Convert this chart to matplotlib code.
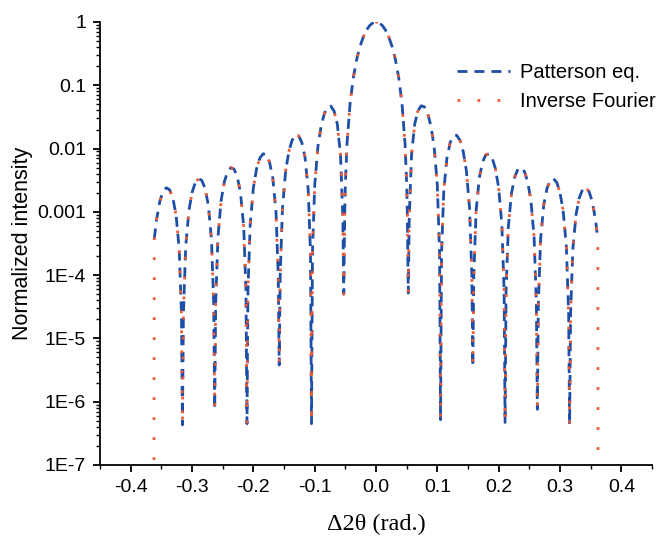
import numpy as np
import matplotlib
matplotlib.use('Agg')
import matplotlib.pyplot as plt
from matplotlib.ticker import MultipleLocator, LogLocator, FixedLocator, FixedFormatter, NullFormatter

plt.rcParams['font.family'] = ['Liberation Sans', 'DejaVu Sans']
plt.rcParams['axes.unicode_minus'] = False
plt.rcParams['lines.scale_dashes'] = False

# diffraction angle offset (rad.)
dtheta = [
    -0.3615, -0.3577, -0.3524, -0.3472, -0.3419, -0.3366, -0.3314, -0.3261, -0.3209, -0.3172, -0.3156,
    -0.3140, -0.3103, -0.3051, -0.2998, -0.2946, -0.2893, -0.2840, -0.2788, -0.2735, -0.2683, -0.2646, -0.2630,
    -0.2614, -0.2577, -0.2525, -0.2472, -0.2420, -0.2367, -0.2314, -0.2262, -0.2209, -0.2157, -0.2120, -0.2104,
    -0.2088, -0.2051, -0.1999, -0.1946, -0.1894, -0.1841, -0.1788, -0.1736, -0.1683, -0.1631, -0.1594, -0.1578,
    -0.1562, -0.1525, -0.1473, -0.1420, -0.1368, -0.1315, -0.1262, -0.1210, -0.1157, -0.1105, -0.1068, -0.1052,
    -0.1036, -0.0999, -0.0947, -0.0894, -0.0842, -0.0789, -0.0736, -0.0684, -0.0631, -0.0579, -0.0542, -0.0526,
    -0.0510, -0.0500, -0.0473, -0.0421, -0.0368, -0.0316, -0.0263, -0.0210, -0.0158, -0.0105, -0.0053,
    0.0,
    0.0053, 0.0105, 0.0158, 0.0210, 0.0263, 0.0316, 0.0368, 0.0421, 0.0473, 0.0500, 0.0510,
    0.0526, 0.0542, 0.0579, 0.0631, 0.0684, 0.0736, 0.0789, 0.0842, 0.0894, 0.0947, 0.0999, 0.1036,
    0.1052, 0.1068, 0.1105, 0.1157, 0.1210, 0.1262, 0.1315, 0.1368, 0.1420, 0.1473, 0.1525, 0.1562,
    0.1578, 0.1594, 0.1631, 0.1683, 0.1736, 0.1788, 0.1841, 0.1894, 0.1946, 0.1999, 0.2051, 0.2088,
    0.2104, 0.2120, 0.2157, 0.2209, 0.2262, 0.2314, 0.2367, 0.2420, 0.2472, 0.2525, 0.2577, 0.2614,
    0.2630, 0.2646, 0.2683, 0.2735, 0.2788, 0.2840, 0.2893, 0.2946, 0.2998, 0.3051, 0.3103, 0.3140,
    0.3156, 0.3172, 0.3209, 0.3261, 0.3314, 0.3366, 0.3419, 0.3472, 0.3524, 0.3577, 0.3615,
]

# normalized intensity at those angles
intensity = [
    3.8e-4, 7.6e-4, 1.48e-3, 2.10e-3, 2.40e-3, 2.24e-3, 1.67e-3, 9.1e-4, 2.6e-4, 2.5e-5, 4.3e-7,
    2.5e-5, 2.8e-4, 1.04e-3, 2.04e-3, 2.92e-3, 3.35e-3, 3.14e-3, 2.36e-3, 1.30e-3, 3.7e-4, 3.5e-5, 7.6e-7,
    3.6e-5, 4.0e-4, 1.52e-3, 3.00e-3, 4.33e-3, 5.00e-3, 4.73e-3, 3.59e-3, 1.98e-3, 5.8e-4, 5.5e-5, 4.5e-7,
    5.7e-5, 6.4e-4, 2.42e-3, 4.84e-3, 7.07e-3, 8.27e-3, 7.93e-3, 6.09e-3, 3.42e-3, 1.01e-3, 9.8e-5, 3.8e-6,
    1.02e-4, 1.15e-3, 4.47e-3, 9.10e-3, 1.356e-2, 1.621e-2, 1.591e-2, 1.254e-2, 7.23e-3, 2.19e-3, 2.2e-4, 4.5e-7,
    2.3e-4, 2.68e-3, 1.080e-2, 2.295e-2, 3.58e-2, 4.50e-2, 4.68e-2, 3.92e-2, 2.43e-2, 8.0e-3, 8.5e-4, 5.0e-5,
    9.5e-4, 2.75e-3, 1.194e-2, 5.47e-2, 0.1353, 0.2546, 0.4053, 0.5728, 0.7368, 0.8751, 0.9675,
    1.0,
    0.9675, 0.8751, 0.7368, 0.5728, 0.4053, 0.2546, 0.1353, 5.47e-2, 1.194e-2, 2.75e-3, 9.5e-4,
    5.2e-5, 8.5e-4, 8.0e-3, 2.45e-2, 3.95e-2, 4.75e-2, 4.55e-2, 3.60e-2, 2.30e-2, 1.080e-2, 2.68e-3, 2.3e-4,
    5.2e-7, 2.2e-4, 2.19e-3, 7.23e-3, 1.254e-2, 1.591e-2, 1.621e-2, 1.356e-2, 9.10e-3, 4.47e-3, 1.15e-3, 1.02e-4,
    3.6e-6, 9.8e-5, 1.01e-3, 3.42e-3, 6.09e-3, 7.93e-3, 8.27e-3, 7.07e-3, 4.84e-3, 2.42e-3, 6.4e-4, 5.7e-5,
    4.7e-7, 5.5e-5, 5.8e-4, 1.98e-3, 3.59e-3, 4.73e-3, 5.00e-3, 4.33e-3, 3.00e-3, 1.52e-3, 4.0e-4, 3.6e-5,
    7.6e-7, 3.5e-5, 3.7e-4, 1.30e-3, 2.36e-3, 3.14e-3, 3.35e-3, 2.92e-3, 2.04e-3, 1.04e-3, 2.8e-4, 2.5e-5,
    4.3e-7, 2.5e-5, 2.6e-4, 9.1e-4, 1.67e-3, 2.24e-3, 2.40e-3, 2.10e-3, 1.48e-3, 7.6e-4, 3.8e-4,
]

# the inverse Fourier curve runs one step further at both ends
fourier_left_x = [-0.3620]
fourier_left_y = [1.2e-7]
fourier_right_x = [0.3620]
fourier_right_y = [1.2e-7]

ytick_values = [1e-7, 1e-6, 1e-5, 1e-4, 1e-3, 1e-2, 1e-1, 1]
ytick_labels = ['1E-7', '1E-6', '1E-5', '1E-4', '0.001', '0.01', '0.1', '1']

blue = '#1f4ea6'
red = '#ee5a36'

fig = plt.figure(figsize=(6.64, 5.39), dpi=100)
ax = fig.add_axes([0.1506, 0.1373, 0.8314, 0.8219])

fx = fourier_left_x + dtheta + fourier_right_x
fy = fourier_left_y + intensity + fourier_right_y

ax.plot(dtheta, intensity, color=blue, lw=2.0, label='Patterson eq.',
        linestyle=(0, (7.2, 5.0)), dash_capstyle='butt')
ax.plot(fx, fy, color=red, lw=2.0, label='Inverse Fourier',
        linestyle=(0, (2.0, 12.4)), dash_capstyle='butt')

ax.set_yscale('log')
ax.set_xlim(-0.45, 0.45)
ax.set_ylim(1e-7, 1)

ax.xaxis.set_major_locator(MultipleLocator(0.1))
ax.xaxis.set_minor_locator(MultipleLocator(0.05))
ax.xaxis.set_major_formatter(plt.FuncFormatter(lambda v, p: f'{v:.1f}'))
ax.yaxis.set_major_locator(FixedLocator(ytick_values))
ax.yaxis.set_major_formatter(FixedFormatter(ytick_labels))
ax.yaxis.set_minor_locator(LogLocator(base=10, subs=np.arange(2, 10), numticks=20))
ax.yaxis.set_minor_formatter(NullFormatter())

for side in ['top', 'right']:
    ax.spines[side].set_visible(False)
for side in ['left', 'bottom']:
    ax.spines[side].set_linewidth(1.3)

ax.tick_params(which='major', direction='out', length=5, width=1.3, labelsize=14, pad=5)
ax.tick_params(which='minor', direction='out', length=3, width=1.0)

ax.set_ylabel('Normalized intensity', fontsize=15.5, labelpad=3)
ax.set_xlabel('\u03942\u03b8 (rad.)', fontsize=17.5, family=['Liberation Serif', 'DejaVu Serif'], labelpad=13)

ax.legend(loc='upper left', bbox_to_anchor=(0.6467, 0.907), frameon=False,
          borderaxespad=0, borderpad=0,
          fontsize=14.5, handlelength=2.63, handletextpad=0.5, labelspacing=0.5)

fig.savefig('out.png', dpi=100)
